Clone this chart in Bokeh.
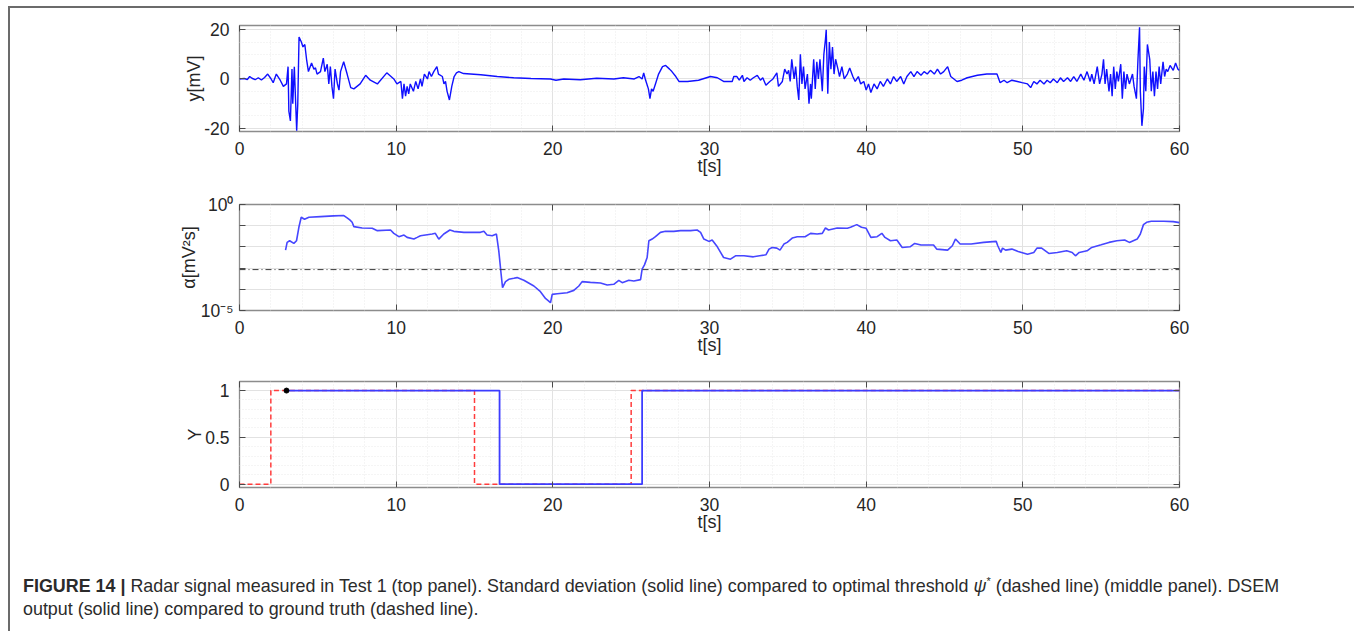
from bokeh.plotting import figure
from bokeh.models import (Range1d, LinearAxis, LogAxis, FixedTicker, SingleIntervalTicker,
                          Span, Div, CustomJSTickFormatter)
from bokeh.layouts import column
from bokeh.embed import file_html
from bokeh.resources import INLINE

FONT = "Liberation Sans"
TXT = "#262626"

# ---------------- data ----------------
# top panel: radar signal y [mV] vs t [s]
signal_t = [0, 0.3, 0.5, 0.65, 0.8, 1.0, 1.2, 1.4, 1.6, 1.8, 2.0, 2.15, 2.35, 2.6, 2.8, 3.0,
            3.1, 3.15, 3.25, 3.35, 3.4, 3.5, 3.65, 3.72, 3.8, 3.95, 4.05, 4.17, 4.28, 4.4,
            4.6, 4.75, 4.85, 4.95, 5.17, 5.35, 5.45, 5.6, 5.7, 5.8, 5.9, 6.0, 6.1, 6.25,
            6.35, 6.45, 6.65, 6.87, 7.1, 7.3, 7.7, 8.05, 8.35, 8.8, 9.4, 9.85, 10.05, 10.3,
            10.4, 10.5, 10.6, 10.7, 10.8, 10.9, 11.1, 11.25, 11.4, 11.55, 11.65, 11.8, 12.0,
            12.1, 12.25, 12.4, 12.6, 12.7, 12.95, 13.05, 13.15, 13.25, 13.4, 13.55, 13.7,
            13.85, 14.0, 14.3, 15.4, 16.45, 17.5, 18.6, 19.85, 20.2, 20.7, 21.75, 22.8, 23.9,
            24.5, 25.2, 25.5, 25.7, 25.8, 25.9, 26.0, 26.1, 26.2, 26.3, 26.4, 26.55, 26.75,
            27.0, 27.2, 27.45, 27.6, 27.85, 28.05, 28.6, 29.3, 30.06, 30.5, 30.9, 31.45,
            31.55, 31.75, 31.9, 32.1, 32.2, 32.4, 32.6, 32.8, 33.05, 33.25, 33.4, 33.6, 33.85,
            34.05, 34.3, 34.4, 34.65, 34.8, 34.95, 35.05, 35.15, 35.25, 35.4, 35.5, 35.6,
            35.7, 35.8, 35.9, 36.0, 36.1, 36.25, 36.35, 36.45, 36.5, 36.65, 36.75, 36.85,
            36.95, 37.05, 37.2, 37.3, 37.4, 37.45, 37.55, 37.65, 37.75, 37.85, 37.95, 38.05,
            38.2, 38.3, 38.45, 38.6, 38.8, 38.95, 39.15, 39.3, 39.5, 39.65, 39.85, 40.0,
            40.15, 40.3, 40.5, 40.7, 40.9, 41.1, 41.35, 41.55, 41.75, 41.95, 42.2, 42.4,
            42.6, 42.85, 43.05, 43.25, 43.5, 43.7, 43.9, 44.1, 44.35, 44.55, 44.75, 44.95,
            45.2, 45.4, 45.6, 45.8, 46.1, 46.45, 47.1, 47.7, 48.35, 48.55, 48.8, 49.0, 49.3,
            49.65, 49.95, 50.3, 50.5, 50.7, 50.9, 51.1, 51.35, 51.55, 51.75, 51.95, 52.2,
            52.4, 52.6, 52.85, 53.05, 53.25, 53.45, 53.7, 53.9, 54.1, 54.3, 54.4, 54.55,
            54.75, 54.9, 55.05, 55.15, 55.25, 55.35, 55.5, 55.6, 55.7, 55.8, 55.9, 56.0,
            56.1, 56.25, 56.35, 56.45, 56.55, 56.65, 56.8, 57.0, 57.1, 57.25, 57.35, 57.45,
            57.5, 57.6, 57.7, 57.75, 57.85, 57.95, 58.1, 58.2, 58.3, 58.4, 58.5, 58.6, 58.7,
            58.8, 58.95, 59.05, 59.15, 59.25, 59.4, 59.6, 59.75, 59.9, 60.0]
signal_y = [0, 0.2, -0.2, 1.0, 0.3, -0.3, 0.5, -0.4, 0.6, 2.0, 0.2, -1.5, 2.0, -0.5, -3, -2,
            5, -13, -17, 4, -10, 5, -21, -10, 17, 15, 13, 14, 8, 3,
            6.5, 4, 4.5, 2, 3, 8.5, 3, 6, -2, 5, -3, -8, 4, -2,
            -4.5, 3, 7, 2, -3.5, -4, -2, 1.5, -0.5, -2, 2.5, 0, -2, -1,
            -8, -2, -7, -3, -6, -2, -5, -1, -4, 0, -3, 2, 0,
            3, 1, 3, 5, 2, 1, -2, -1, -5, -8.5, -3, 1,
            2.5, 3, 2.2, 1.7, 1.0, 0.5, 0.2, 0, -0.5, 0, -0.3, 0.3, 0,
            0.5, 0, 1, 0, 2.5, 0, -2, -4, -8, -4, -5, -2, 2,
            5, 5.5, 4, 3, 1, -1, -1, -0.5, 1.0, 0.5, -1, -1,
            1, 1, -0.5, 1.5, -1, 0.5, -0.5, 0.5, 1.5, -0.5, 0.5, -2.5, -1,
            0, 2.5, -3, -1, 4, 2, 3.5, -1, 8, 0, 5, -3,
            -8.5, 10, -2, 5, -4, 2, -10, -2, -8, 8, -4, 7,
            0, 8, -5, 10, 16, 20, -6, 15, 4, 13, 2, 8,
            4, 1, 5, 0, 2, 4.5, 1, -1, 1, -2, -1, -4.5,
            -2, -5.5, -2, -4, -1, -3, 0, -2, 1, -1, 1, -2,
            1, 3, 1, 3, 1.5, 3, 2, 3.5, 2, 4, 2, 3,
            5, 1, 0, -1, -0.5, 0.5, 1.5, 2, 2, -1.5, -0.5, -1.5, -0.5,
            -1, -1.5, -2, -3.5, -1, -2, -0.5, -2, -0.5, -1.5, 0, -1.5,
            0.5, -1, 0.5, -1, 1, -1, 2, -0.5, 3, -1, 2, -2,
            5, -2, 2, 8, -2, 4, -5, 2, -7, 5, -4, 3,
            -1, 6, -8, 3, -4, 2, -2, 2, -3, -8, 8, 21,
            -5, -19, -12, 5, -5, 14, 8, -5, 3, -7, 3, -4, 5,
            -2, 7, 1, 4, 3, 5.5, 3.5, 6.5, 4, 3.5]

# middle panel: alpha [mV^2 s] (log axis)
alpha_t = [2.94, 3.04, 3.2, 3.47, 3.64, 3.79, 3.94, 4.15, 4.43, 5.17, 6.0, 6.66, 6.87, 7.04,
           7.19, 7.3, 7.83, 8.47, 8.8, 9.64, 9.85, 10.17, 10.5, 10.7, 11.13, 11.34, 11.55,
           11.98, 12.3, 12.5, 12.72, 13.04, 13.43, 13.68, 14.32, 15.38, 15.6, 15.8, 16.13,
           16.4, 16.55, 16.7, 16.79, 16.98, 17.19, 17.51, 17.72, 18.15, 18.79, 19.21, 19.53,
           19.74, 19.85, 19.96, 20.28, 20.91, 21.34, 21.66, 21.87, 22.4, 23.04, 23.47, 23.89,
           24.21, 24.43, 24.85, 25.17, 25.6, 25.7, 25.85, 26.02, 26.13, 26.34, 26.55, 26.87,
           27.19, 27.72, 28.15, 28.79, 29.21, 29.43, 29.64, 29.96, 30.17, 30.5, 30.9, 31.34,
           31.66, 32.2, 32.8, 33.2, 33.6, 33.8, 34.0, 34.3, 34.5, 34.75, 34.96, 35.28, 35.6,
           36.1, 36.45, 36.87, 37.2, 37.4, 37.6, 38.15, 38.8, 39.0, 39.4, 39.7, 40.0, 40.3,
           40.7, 41.0, 41.2, 41.55, 41.96, 42.3, 42.8, 43.1, 43.5, 44.3, 44.5, 45.2, 45.5,
           45.7, 46.0, 46.7, 47.5, 48.3, 48.4, 48.6, 48.7, 48.9, 49.3, 49.7, 50.3, 50.7,
           50.9, 51.2, 51.66, 52.2, 52.8, 53.15, 53.36, 53.6, 54.1, 54.4, 55.0, 55.5, 56.0,
           56.5, 56.8, 57.3, 57.5, 57.7, 57.9, 58.2, 59.0, 59.6, 60.0]
alpha_v = [0.00705, 0.0163, 0.0195, 0.0146, 0.0195, 0.084, 0.2505, 0.2014, 0.25, 0.269,
           0.29, 0.301, 0.233, 0.187, 0.145, 0.0903, 0.078, 0.0753, 0.0583, 0.0627, 0.0436,
           0.0303, 0.0363, 0.0281, 0.0234, 0.0281, 0.0338, 0.0377, 0.0405, 0.0436, 0.0234,
           0.0405, 0.0627, 0.0542, 0.0486, 0.0486, 0.0542, 0.0363, 0.0338, 0.0405, 0.00655,
           0.000512, 0.000119, 0.00023, 0.000297, 0.000331, 0.000356, 0.000266, 0.000143,
           0.0000769, 0.0000371, 0.0000277, 0.0000231, 0.0000574, 0.0000618, 0.000069,
           0.000089, 0.000143, 0.00023, 0.000213, 0.000198, 0.00016, 0.000172, 0.000266,
           0.000206, 0.000266, 0.000247, 0.000286, 0.000884, 0.00142, 0.00316, 0.0195,
           0.0234, 0.0303, 0.0486, 0.0542, 0.0542, 0.0583, 0.0583, 0.0627, 0.0486, 0.0234,
           0.0182, 0.021, 0.0101, 0.00316, 0.00264, 0.0038, 0.0038, 0.0034, 0.0038, 0.00423,
           0.00787, 0.00944, 0.00877, 0.00705, 0.0136, 0.0163, 0.0262, 0.0303, 0.0303,
           0.0436, 0.0405, 0.0436, 0.078, 0.0627, 0.078, 0.0753, 0.084, 0.1124, 0.084,
           0.0753, 0.0281, 0.0303, 0.0436, 0.0281, 0.0195, 0.021, 0.00944, 0.0101, 0.0146,
           0.0122, 0.0122, 0.00787, 0.00705, 0.0113, 0.0234, 0.0136, 0.0136, 0.0163, 0.0182,
           0.0113, 0.00546, 0.00877, 0.00705, 0.00787, 0.00609, 0.00455, 0.00546, 0.00877,
           0.00877, 0.0049, 0.00546, 0.00655, 0.00546, 0.0038, 0.00546, 0.00655, 0.00944,
           0.0126, 0.0163, 0.0195, 0.021, 0.0163, 0.0234, 0.0405, 0.1124, 0.145, 0.162,
           0.162, 0.156, 0.14]
threshold = 0.00085

# bottom panel: DSEM output (solid) and ground truth (dashed)
truth_t = [0, 2, 15, 25, 60]
truth_y = [0, 1, 0, 1, 1]
dsem_t = [3, 16.6, 25.7, 60]
dsem_y = [1, 0, 1, 1]
start_t = [3]
start_y = [1]

x_ticks = [0, 10, 20, 30, 40, 50, 60]
y_ticks_top = [-20, 0, 20]
y_ticks_mid = [1e-5, 1e-4, 1e-3, 1e-2, 1e-1, 1]
y_ticks_bot = [0, 0.5, 1]
x_label = "t[s]"
caption_html = ("<b>FIGURE 14 |</b> Radar signal measured in Test 1 (top panel). Standard "
                "deviation (solid line) compared to optimal threshold "
                "<i>&psi;</i><sup style='font-size:11px'>*</sup> (dashed line) (middle panel). "
                "DSEM<br>output (solid line) compared to ground truth (dashed line).")

W = 1342

PLAIN = CustomJSTickFormatter(code="return String(tick);")
BLANK = CustomJSTickFormatter(code="return '';")


def style_axis(ax, labels=True):
    ax.axis_line_color = None
    ax.major_tick_in = 6
    ax.major_tick_out = 0
    ax.major_tick_line_color = "#4a4a4a"
    ax.major_tick_line_width = 1
    ax.minor_tick_line_color = None
    ax.major_label_text_font = FONT
    ax.major_label_text_color = TXT
    ax.major_label_text_font_size = "17.5px"
    if labels:
        ax.major_label_standoff = 6
        ax.formatter = PLAIN
    else:
        ax.major_label_standoff = 0
        ax.formatter = BLANK
    ax.axis_label_text_font = FONT
    ax.axis_label_text_font_size = "18px"
    ax.axis_label_text_font_style = "normal"
    ax.axis_label_text_color = TXT


def make_fig(height, top, bottom, y_range, y_type, y_ticks, y_minor, ylabel, label_standoff):
    p = figure(width=W, height=height, x_range=Range1d(0, 60), y_range=y_range,
               y_axis_type=y_type, output_backend="svg", toolbar_location=None,
               min_border_left=229, min_border_right=173, min_border_top=top,
               min_border_bottom=bottom)
    p.outline_line_color = "#8c8c8c"
    p.outline_line_width = 1.3
    xt = SingleIntervalTicker(interval=10, num_minor_ticks=5)
    yt = FixedTicker(ticks=y_ticks, minor_ticks=y_minor)
    p.xaxis.ticker = xt
    p.yaxis.ticker = yt
    p.xgrid.ticker = xt
    p.ygrid.ticker = yt
    for g in (p.xgrid, p.ygrid):
        g.grid_line_color = "#e2e2e2"
        g.grid_line_width = 1
        g.minor_grid_line_color = "#ebebeb"
        g.minor_grid_line_dash = "1 2"
    style_axis(p.xaxis[0])
    style_axis(p.yaxis[0])
    p.xaxis.axis_label = x_label
    p.xaxis.axis_label_standoff = -2
    p.yaxis.axis_label = ylabel
    p.yaxis.axis_label_standoff = label_standoff
    top_ax = LinearAxis(ticker=xt)
    style_axis(top_ax, labels=False)
    p.add_layout(top_ax, "above")
    right_ax = (LogAxis if y_type == "log" else LinearAxis)(ticker=yt)
    style_axis(right_ax, labels=False)
    p.add_layout(right_ax, "right")
    return p


# top panel
p1 = make_fig(182, 17, 59, Range1d(-21.3, 21.7), "linear", y_ticks_top,
              [-15, -10, -5, 5, 10, 15], "y[mV]", -3)
p1.line(signal_t, signal_y, line_color="#1010ff", line_width=1.4)

# middle panel
p2 = make_fig(178, 14, 58, Range1d(1e-5, 1), "log", y_ticks_mid, [], "α[mV²s]", -1)
p2.yaxis[0].formatter = CustomJSTickFormatter(
    code="if (tick > 0.5) {return '10\u2070';} if (tick < 2e-5) {return '10\u207b\u2075';} return '';")
p2.line(alpha_t, alpha_v, line_color="#4646ff", line_width=1.6)
p2.add_layout(Span(location=threshold, dimension="width", line_color="#3a3a3a",
                   line_width=1, line_dash="6 3 1 3"))

# bottom panel
p3 = make_fig(180, 13, 61, Range1d(-0.036, 1.097), "linear", y_ticks_bot,
              [0.1, 0.2, 0.3, 0.4, 0.6, 0.7, 0.8, 0.9], "Y", -3)
p3.step(truth_t, truth_y, mode="after", line_color="#ff3c3c", line_width=1.5,
        line_dash="5 3")
p3.step(dsem_t, dsem_y, mode="after", line_color="#3c3cff", line_width=1.8)
p3.scatter(start_t, start_y, size=5, color="black")

cap = Div(text=("<div style=\"font-family:'Liberation Sans',Arial,sans-serif;font-size:17.9px;"
                "color:#2b2b2b;line-height:23px;padding:17px 0 0 8px;\">"
                + caption_html + "</div>"),
          width=W, height=80)

layout = column(p1, p2, p3, cap, margin=(6, 0, 0, 8),
                styles={"border-top": "2px solid #6b6b6b",
                        "border-left": "2px solid #6b6b6b",
                        "border-right": "2px solid #6b6b6b",
                        "background-color": "white"})

open("out.html", "w").write(file_html(layout, INLINE))
